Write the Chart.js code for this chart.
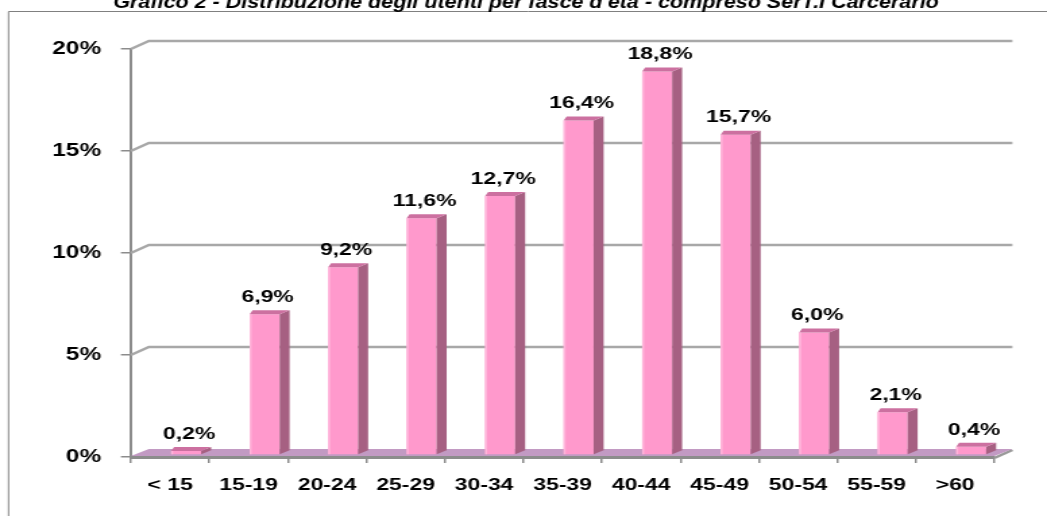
<!DOCTYPE html>
<html>
<head>
<meta charset="utf-8">
<script src="https://cdn.jsdelivr.net/npm/chart.js@4/dist/chart.umd.min.js"></script>
<style>
  html, body { margin: 0; padding: 0; background: #fff; overflow: hidden; }
  #chart { display: block; }
</style>
</head>
<body>
<!-- the original picture is stretched sideways, so the canvas is drawn narrow and widened by CSS -->
<canvas id="chart" width="776" height="516" style="width:1047px;height:516px"></canvas>
<script>
const title = "Grafico 2 - Distribuzione degli utenti per fasce d'età - compreso SerT.I Carcerario";
const categories = ['< 15', '15-19', '20-24', '25-29', '30-34', '35-39', '40-44', '45-49', '50-54', '55-59', '>60'];
const values = [0.2, 6.9, 9.2, 11.6, 12.7, 16.4, 18.8, 15.7, 6.0, 2.1, 0.4];
const yMax = 20;
const yStep = 5;

// horizontal stretch between canvas pixels and screen pixels
const SX = 1047 / 776;
const sx = d => d / SX;

// 3D look
const DEPTH_X = sx(18), DEPTH_Y = 8;      // back wall offset
const BAR_SHIFT_X = sx(16), BAR_SHIFT_Y = -2; // bars sit half way into the floor
const SIDE_X = sx(10), SIDE_Y = 4;

const colors = {
    front: '#FF99CC',
    side: '#A66082',
    top: '#CC70A0',
    floor: '#C29AC3',
    grid: '#A8A8A8',
    axis: '#8C8C8C'
};

const fmt = v => v.toFixed(1).replace('.', ',') + '%';

// frame, title, back wall grid and floor
const backdrop = {
    id: 'backdrop',
    beforeDraw(chart) {
        const ctx = chart.ctx;
        ctx.save();
        ctx.strokeStyle = '#808080';
        ctx.lineWidth = 1;
        ctx.beginPath();
        ctx.moveTo(sx(8.5), 600);
        ctx.lineTo(sx(8.5), 11.5);
        ctx.lineTo(chart.width + 5, 11.5);
        ctx.stroke();

        // title is narrower than the rest of the text, and cut off at the top
        ctx.fillStyle = '#000';
        ctx.font = 'italic bold 19px Arial, "Liberation Sans", sans-serif';
        ctx.textAlign = 'center';
        ctx.textBaseline = 'alphabetic';
        const squeeze = 0.84;
        ctx.translate(sx(526), 0);
        ctx.scale(squeeze, 1);
        ctx.fillText(title, 0, 8);
        ctx.restore();
    },
    beforeDatasetsDraw(chart) {
        const ctx = chart.ctx;
        const { left, right, bottom } = chart.chartArea;
        const y = chart.scales.y;
        ctx.save();

        // back wall gridlines
        ctx.strokeStyle = colors.grid;
        ctx.lineWidth = 2.5;
        for (let v = yStep; v <= yMax; v += yStep) {
            const py = y.getPixelForValue(v);
            ctx.beginPath();
            ctx.moveTo(left, py);
            ctx.lineTo(left + DEPTH_X, py - DEPTH_Y);
            ctx.lineTo(right + DEPTH_X, py - DEPTH_Y);
            ctx.stroke();
        }

        // floor
        ctx.strokeStyle = '#999';
        ctx.beginPath();
        ctx.moveTo(right, bottom + 1);
        ctx.lineTo(right + DEPTH_X, bottom - DEPTH_Y + 1);
        ctx.stroke();
        ctx.fillStyle = colors.floor;
        ctx.beginPath();
        ctx.moveTo(left, bottom - 1);
        ctx.lineTo(right, bottom - 1);
        ctx.lineTo(right + DEPTH_X, bottom - DEPTH_Y);
        ctx.lineTo(left + DEPTH_X, bottom - DEPTH_Y);
        ctx.closePath();
        ctx.fill();

        ctx.restore();

        // bars are drawn shifted into the depth
        ctx.save();
        ctx.translate(BAR_SHIFT_X, BAR_SHIFT_Y);
    },
    afterDatasetsDraw(chart) {
        const ctx = chart.ctx;
        const meta = chart.getDatasetMeta(0);
        meta.data.forEach((bar, i) => {
            const { x, y, base, width } = bar.getProps(['x', 'y', 'base', 'width'], true);
            const xl = x - width / 2, xr = x + width / 2;

            // side face
            ctx.fillStyle = colors.side;
            ctx.beginPath();
            ctx.moveTo(xr, y);
            ctx.lineTo(xr + SIDE_X, y - SIDE_Y);
            ctx.lineTo(xr + SIDE_X, base - SIDE_Y);
            ctx.lineTo(xr, base);
            ctx.closePath();
            ctx.fill();

            // top face
            ctx.fillStyle = colors.top;
            ctx.beginPath();
            ctx.moveTo(xl, y);
            ctx.lineTo(xl + sx(3), y - SIDE_Y);
            ctx.lineTo(xr + SIDE_X, y - SIDE_Y);
            ctx.lineTo(xr, y);
            ctx.closePath();
            ctx.fill();

            // light edge on the front face
            ctx.fillStyle = '#FFB6DB';
            ctx.fillRect(xl, y, sx(2), base - y);

            // value label
            ctx.fillStyle = '#000';
            ctx.font = 'bold 17px Arial, "Liberation Sans", sans-serif';
            ctx.textAlign = 'center';
            ctx.textBaseline = 'middle';
            ctx.fillText(fmt(values[i]), x + sx(3), y - 17);
        });
        ctx.restore();
    }
};

new Chart(document.getElementById('chart'), {
    type: 'bar',
    data: {
        labels: categories,
        datasets: [{
            data: values,
            backgroundColor: colors.front,
            borderWidth: 0,
            categoryPercentage: 1,
            barPercentage: 0.382,
            clip: false
        }]
    },
    options: {
        responsive: false,
        animation: false,
        devicePixelRatio: 1,
        layout: { padding: { left: 0, right: 39, top: 49, bottom: 0 } },
        plugins: {
            legend: { display: false },
            tooltip: { enabled: false },
            title: { display: false }
        },
        scales: {
            x: {
                afterFit: s => { s.height = 59; },
                grid: {
                    display: true,
                    drawOnChartArea: false,
                    drawTicks: true,
                    tickLength: 6,
                    color: colors.axis,
                    lineWidth: 1.5
                },
                border: { display: true, color: colors.axis, width: 3 },
                ticks: {
                    color: '#000',
                    padding: 12,
                    maxRotation: 0,
                    autoSkip: false,
                    font: { family: 'Arial, "Liberation Sans", sans-serif', size: 17, weight: 'bold' }
                }
            },
            y: {
                min: 0,
                max: yMax,
                afterFit: s => { s.width = 97; },
                grid: {
                    display: true,
                    drawOnChartArea: false,
                    drawTicks: true,
                    tickLength: sx(10),
                    color: colors.axis,
                    lineWidth: 1.5
                },
                border: { display: true, color: colors.axis, width: 2 },
                ticks: {
                    stepSize: yStep,
                    color: '#000',
                    padding: 14.7,
                    callback: v => v + '%',
                    font: { family: 'Arial, "Liberation Sans", sans-serif', size: 18, weight: 'bold' }
                }
            }
        }
    },
    plugins: [backdrop]
});
</script>
</body>
</html>
